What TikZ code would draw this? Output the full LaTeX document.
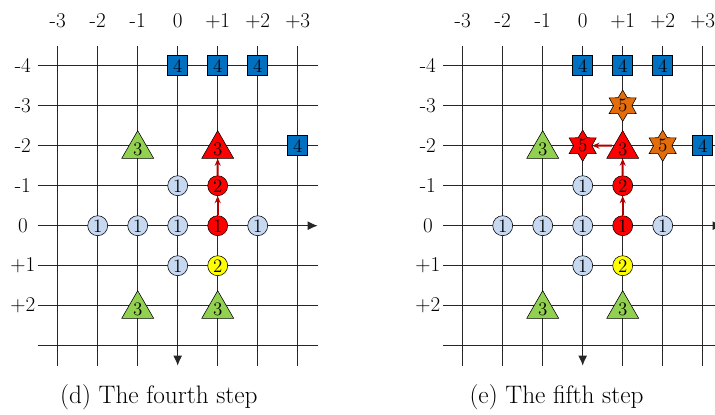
\documentclass[tikz,border=0pt]{standalone}
\usetikzlibrary{shapes.geometric, arrows.meta, positioning}
\definecolor{cellblue}{HTML}{C6D9F1}
\definecolor{boxblue}{HTML}{0070C0}
\definecolor{trigreen}{HTML}{92D050}
\definecolor{starorange}{HTML}{E46C0A}
\definecolor{cellyellow}{HTML}{FFFF00}
\definecolor{cellred}{HTML}{FF0000}

\begin{document}
\begin{tikzpicture}[
    numfont/.style={font=\fontsize{13.5}{15}\selectfont},
    cell/.style={circle, draw=black, fill=#1, minimum size=5mm, inner sep=0pt, numfont},
    box/.style={rectangle, draw=black, fill=boxblue, minimum size=5mm, inner sep=0pt, numfont},
    tri/.style={regular polygon, regular polygon sides=3, draw=black, fill=#1,
                minimum size=6.8mm, inner sep=0pt, yshift=-0.85mm, numfont},
    hexa/.style={star, star points=6, star point ratio=1.7, draw=black, fill=#1,
                 minimum size=6mm, inner sep=0pt, numfont},
    gridline/.style={draw=black!85, line width=0.75pt},
    axis/.style={gridline, -{Latex[length=2.5mm, width=2.2mm]}},
    conn/.style={-{Stealth[length=1.8mm, width=1.5mm]}, line width=1.4pt, draw=red!70!black},
    ticklabel/.style={font=\fontsize{15}{18}\selectfont},
    caption/.style={font=\fontsize{18}{22}\selectfont}
]
\useasboundingbox (-4.4425,-4.7325) rectangle (13.4325,5.6425);

\foreach \p/\dx/\cx/\step in {d/0/-0.47/fourth, e/10.125/-0.655/fifth} {
\begin{scope}[xshift=\dx cm]
  % grid
  \foreach \c in {-3,-2,-1,1,2,3}
    \draw[gridline] (\c,4.5) -- (\c,-3.5);
  \foreach \r in {4,3,2,1,-1,-2,-3}
    \draw[gridline] (-3.5,\r) -- (3.5,\r);
  \draw[axis] (-3.5,0) -- (3.5,0);
  \draw[axis] (0,4.5) -- (0,-3.5);

  % labels
  \foreach \c/\t in {-3/-3, -2/-2, -1/-1, 0/0, 1/+1, 2/+2, 3/+3}
    \node[ticklabel, anchor=base] (\p-col\c) at (\c,4.96) {\t};
  \foreach \r/\t in {4/-4, 3/-3, 2/-2, 1/-1, 0/0, -1/+1, -2/+2}
    \node[ticklabel] (\p-row\t) at (-3.87,\r) {\t};

  % step 4
  \node[box] (\p-s1) at (0,4) {4};
  \node[box] (\p-s2) at (1,4) {4};
  \node[box] (\p-s3) at (2,4) {4};
  \node[box] (\p-s4) at (3,2) {4};

  % step 3
  \node[tri=trigreen] (\p-t1) at (-1,2)  {3};
  \node[tri=trigreen] (\p-t2) at (-1,-2) {3};
  \node[tri=trigreen] (\p-t3) at (1,-2)  {3};
  \node[tri=cellred]  (\p-rt) at (1,2)   {3};

  % steps 1 and 2
  \node[cell=cellblue] (\p-c1) at (0,1)  {1};
  \node[cell=cellblue] (\p-c2) at (-2,0) {1};
  \node[cell=cellblue] (\p-c3) at (-1,0) {1};
  \node[cell=cellblue] (\p-c4) at (0,0)  {1};
  \node[cell=cellblue] (\p-c5) at (2,0)  {1};
  \node[cell=cellblue] (\p-c6) at (0,-1) {1};
  \node[cell=cellred]    (\p-r1) at (1,0)  {1};
  \node[cell=cellred]    (\p-r2) at (1,1)  {2};
  \node[cell=cellyellow] (\p-y1) at (1,-1) {2};

  \draw[conn] (\p-r1) -- (\p-r2);
  \draw[conn] (\p-r2) -- (\p-rt);

  \node[caption, anchor=base] (\p-cap) at (\cx,-4.4575) {(\p) The \step\ step};
\end{scope}
}

% step 5
\begin{scope}[xshift=10.125cm]
  \node[hexa=starorange] (e-h1) at (1,3) {5};
  \node[hexa=starorange] (e-h2) at (2,2) {5};
  \node[hexa=cellred]    (e-h3) at (0,2) {5};
  \draw[conn] ([yshift=0.85mm]e-rt.west) -- (e-h3);
\end{scope}
\end{tikzpicture}
\end{document}
